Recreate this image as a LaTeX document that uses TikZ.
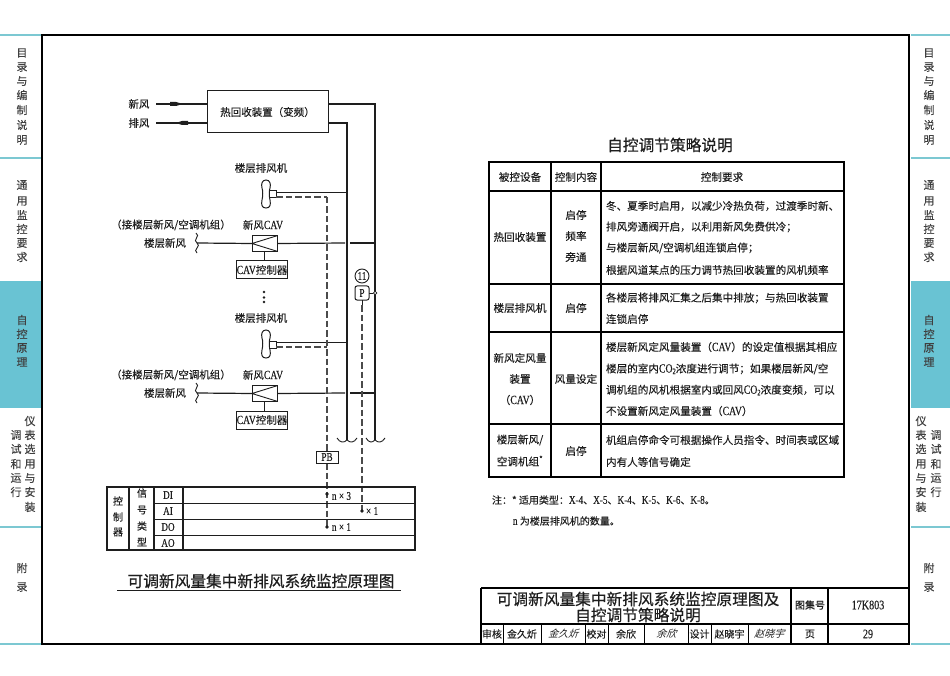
\documentclass[tikz,border=0pt]{standalone}
\usepackage{fontspec}
\setmainfont[FakeBold=0.15]{Noto Sans CJK SC}
\newfontfamily\latf[FakeStretch=0.78,Scale=1.18,FakeBold=0.2]{Liberation Serif}
\newfontfamily\sigf[FakeSlant=0.35]{Noto Sans CJK SC}
\newfontfamily\boldf[FakeBold=0.6]{Noto Sans CJK SC}
\usetikzlibrary{calc}
\newcommand{\lat}[1]{{\latf #1}}
\newcommand{\cotwo}{\lat{CO}\raisebox{-1.5pt}{\fontsize{7}{7}\selectfont\lat{2}}}
\definecolor{tabline}{HTML}{7CC8D2}
\definecolor{tabfill}{HTML}{69C3D3}
\definecolor{ink}{HTML}{1E1E1E}
\tikzset{
  x=1pt,y=-1pt,
  every node/.style={inner sep=0pt,outer sep=0pt,text=ink},
  thin line/.style={draw=ink,line width=0.9pt},
  duct/.style={draw=ink,line width=1.2pt},
  heavy/.style={draw=black,line width=1.6pt},
  signal/.style={draw=ink!80,line width=1.2pt,dash pattern=on 6.5pt off 3pt},
  tabtext/.style={font=\fontsize{11}{11}\selectfont,text=ink!85},
  label/.style={font=\fontsize{10.5}{10.5}\selectfont},
  celltext/.style={font=\fontsize{10.6}{10.6}\selectfont},
  reqtext/.style={font=\fontsize{10.6}{10.6}\selectfont,anchor=west},
  smalltext/.style={font=\fontsize{10}{10}\selectfont},
  bigtitle/.style={font=\boldf\fontsize{15.7}{15.7}\selectfont},
  devbox/.style={draw=ink,line width=1pt,fill=white},
  dot/.style={circle,fill=ink,minimum size=3.6pt},
}
\begin{document}
\begin{tikzpicture}
\useasboundingbox (0,0) rectangle (950,676);
% ---------- side tabs
\fill[tabfill] (0,281) rectangle (41,408);
\fill[tabfill] (911,281) rectangle (950,408);
\foreach \yy in {35,158,527,644}{
  \draw[tabline,line width=1.2pt] (0,\yy) -- (41,\yy);
  \draw[tabline,line width=1.2pt] (911,\yy) -- (950,\yy);
}
\foreach \xx in {22,929}{
  \foreach \c/\yy in {目/53,录/67,与/81,编/95,制/110,说/125,明/140,
     通/185,用/201,监/215,控/229,要/243,求/257,
     自/320,控/334,原/348,理/362,
     附/568,录/587}{
    \node[tabtext] at (\xx,\yy) {\c};
  }
}
\foreach \xl/\xr in {16/30,936/921}{
  \foreach \c/\yy in {调/435,试/449,和/464,运/478,行/492}{
    \node[tabtext] at (\xl,\yy) {\c};
  }
  \foreach \c/\yy in {仪/421,表/435,选/449,用/464,与/478,安/492,装/507}{
    \node[tabtext] at (\xr,\yy) {\c};
  }
}
% ---------- frame
\draw[heavy] (42,35) rectangle (909,644);
% ---------- heat recovery unit
\node[devbox,minimum width=121pt,minimum height=42pt,label] (hr) at (267.5,112) {热回收装置（变频）};
\node[label] (fresh) at (139,104) {新风};
\node[label] (exh) at (139,123) {排风};
\coordinate (freshS) at (156,104);
\coordinate (exhS) at (156,123);
\draw[duct] (freshS) -- (freshS -| hr.west);
\draw[duct] (exhS) -- (exhS -| hr.west);
\fill[ink] (170,102) -- (176,102) -- (183,104) -- (176,106) -- (170,106) -- cycle;
\fill[ink] (188,121) -- (182,121) -- (176,123) -- (182,125) -- (188,125) -- cycle;
% risers
\coordinate (supTop) at (375,104);
\coordinate (retTop) at (347,123);
\coordinate (supEnd) at (375,440);
\coordinate (retEnd) at (347,440);
\draw[duct] (supTop -| hr.east) -- (supTop) -- (supEnd);
\draw[duct] (retTop -| hr.east) -- (retTop) -- (retEnd);
\draw[thin line] (337,438) .. controls (340,443) and (344,443) .. (347,440) .. controls (350,443) and (354,443) .. (357,438);
\draw[thin line] (366,438) .. controls (369,443) and (372,443) .. (375,440) .. controls (378,443) and (382,443) .. (385,438);
% ---------- floors
\coordinate (sigTop) at (327,197);
\coordinate (sigBot) at (327,527);
\foreach \o/\n in {0/a,150/b}{
  \begin{scope}[yshift=-\o pt]
    \node[label] (fanlabel\n) at (261,168) {楼层排风机};
    \draw[thin line,line width=1pt,fill=white] (266,180) .. controls (262,180) and (261,184) .. (262,188)
       .. controls (263,191) and (263,196) .. (262,200)
       .. controls (261,205) and (262,208) .. (266,208)
       .. controls (270,208) and (271,205) .. (270,200)
       .. controls (269,196) and (269,191) .. (270,188)
       .. controls (271,184) and (270,180) .. (266,180) -- cycle;
    \node[devbox,minimum width=6.5pt,minimum height=7pt] (fan\n) at (273.2,194.5) {};
    \draw[duct] (fan\n.east |- 0,192.5) -- (347,192.5);
    \draw[signal] (fan\n.east |- 0,197) -- (327,197);
    \node[label] (src\n) at (171,225) {（接楼层新风/空调机组）};
    \node[label] (flo\n) at (165,243) {楼层新风};
    \node[label] (cavl\n) at (263,225) {新风\lat{CAV}};
    \node[devbox,minimum width=25pt,minimum height=15.5pt] (cav\n) at (264.5,243.5) {};
    \draw[thin line] (cav\n.north east) -- (cav\n.west) -- (cav\n.south east);
    \coordinate (ductL\n) at (197,243);
    \coordinate (gap1\n) at (345,243);
    \coordinate (gap2\n) at (350,243);
    \coordinate (ductR\n) at (375,243);
    \draw[duct] (ductL\n) -- (cav\n.west);
    \draw[duct] (cav\n.east) -- (gap1\n);
    \draw[duct] (gap2\n) -- (ductR\n);
    \draw[thin line] (196,233) .. controls (201,236) and (192,240) .. (197,243) .. controls (202,246) and (192,250) .. (197,253);
    \node[devbox,minimum width=50pt,minimum height=18pt,font=\fontsize{10.5}{10.5}\selectfont] (ctl\n) at (262,270) {\lat{CAV}控制器};
    \draw[thin line] (cav\n.south |- 0,251) -- (cav\n.south |- ctl\n.north);
  \end{scope}
}
\foreach \yy in {292,297.5,302}{\fill[ink] (264,\yy) circle (1.3pt);}
% signal risers
\draw[signal] (sigTop) -- (sigBot);
\node[devbox,minimum width=22pt,minimum height=12pt,font=\fontsize{10}{10}\selectfont] (pb) at (327,457) {\lat{PB}};
% pressure sensor
\node[draw=ink,circle,line width=0.9pt,minimum size=14pt,font=\fontsize{10}{10}\selectfont] (n11) at (362,276) {\lat{11}};
\node[draw=ink,rounded corners=2pt,line width=1pt,minimum width=14pt,minimum height=14pt,font=\fontsize{10}{10}\selectfont] (psens) at (362,293) {\lat{P}};
\node[draw=ink,circle,line width=0.7pt,fill=white,minimum size=3.5pt] (ptap) at (375,293) {};
\draw[thin line] (psens) -- (ptap);
\coordinate (psEnd) at (362,511);
\draw[thin line] (psens.south) -- (362,305);
\draw[signal] (362,305) -- (psEnd);
% ---------- controller table
\coordinate (ttl) at (107,487);
\coordinate (tbr) at (415,550);
\draw[thin line] (154,503) -- (415,503);
\draw[thin line] (154,519) -- (415,519);
\draw[thin line] (154,535) -- (415,535);
\draw[thin line,line width=1.2pt] (129,487) -- (129,550);
\draw[thin line,line width=1.2pt] (154,487) -- (154,550);
\draw[thin line,line width=1.2pt] (183,487) -- (183,550);
\draw[draw=ink,line width=1.5pt] (ttl) rectangle (tbr);
\foreach \c/\yy in {控/501,制/517,器/532}{\node[smalltext] at (118,\yy) {\c};}
\foreach \c/\yy in {信/493,号/510,类/526,型/542}{\node[smalltext] at (142,\yy) {\c};}
\foreach \c/\yy in {DI/495,AI/511,DO/527,AO/543}{\node[smalltext] at (168,\yy) {\lat{\c}};}
\node[dot] (d1) at (327,494) {};
\node[dot] (d2) at (362,511) {};
\node[dot] (d3) at (327,527) {};
\node[smalltext,anchor=west] (n1) at (332,496) {\lat{n × 3}};
\node[smalltext,anchor=west] (n2) at (366,511) {\lat{× 1}};
\node[smalltext,anchor=west] (n3) at (332,527) {\lat{n × 1}};
% ---------- diagram title
\node[bigtitle] (dtitle) at (261,581) {可调新风量集中新排风系统监控原理图};
\draw[draw=ink,line width=1.5pt] (117,590.5) -- (401,590.5);
% ---------- strategy table
\node[bigtitle] (stitle) at (670,145) {自控调节策略说明};
\draw[heavy,line width=1.4pt] (489,162) rectangle (844,477);
\foreach \yy in {191,284,332,424}{\draw[heavy,line width=1.2pt] (489,\yy) -- (844,\yy);}
\draw[heavy,line width=1.2pt] (551,162) -- (551,477);
\draw[heavy,line width=1.2pt] (601,162) -- (601,477);
\node[celltext] at (520,177) {被控设备};
\node[celltext] at (576,177) {控制内容};
\node[celltext] at (722,177) {控制要求};
\node[celltext] at (520,237) {热回收装置};
\node[celltext] at (576,215) {启停};
\node[celltext] at (576,236) {频率};
\node[celltext] at (576,257) {旁通};
\node[reqtext] at (606,206) {冬、夏季时启用，以减少冷热负荷，过渡季时新、};
\node[reqtext] at (606,227) {排风旁通阀开启，以利用新风免费供冷；};
\node[reqtext] at (606,248) {与楼层新风/空调机组连锁启停；};
\node[reqtext] at (606,270) {根据风道某点的压力调节热回收装置的风机频率};
\node[celltext] at (520,308) {楼层排风机};
\node[celltext] at (576,308) {启停};
\node[reqtext] at (606,298) {各楼层将排风汇集之后集中排放；与热回收装置};
\node[reqtext] at (606,319) {连锁启停};
\node[celltext] at (520,358) {新风定风量};
\node[celltext] at (520,379) {装置};
\node[celltext] at (520,400) {（\lat{CAV}）};
\node[celltext] at (576,379) {风量设定};
\node[reqtext] at (606,347) {楼层新风定风量装置（\lat{CAV}）的设定值根据其相应};
\node[reqtext] at (606,369) {楼层的室内\cotwo 浓度进行调节；如果楼层新风/空};
\node[reqtext] at (606,390) {调机组的风机根据室内或回风\cotwo 浓度变频，可以};
\node[reqtext] at (606,411) {不设置新风定风量装置（\lat{CAV}）};
\node[celltext] at (520,440) {楼层新风/};
\node[celltext] at (520,461) {空调机组\textsuperscript{*}};
\node[celltext] at (576,451) {启停};
\node[reqtext] at (606,440) {机组启停命令可根据操作人员指令、时间表或区域};
\node[reqtext] at (606,462) {内有人等信号确定};
\node[smalltext,anchor=west] at (492,500) {注：* 适用类型：\lat{X-4}、\lat{X-5}、\lat{K-4}、\lat{K-5}、\lat{K-6}、\lat{K-8}。};
\node[smalltext,anchor=west] at (513,521) {\lat{n} 为楼层排风机的数量。};
% ---------- title block
\draw[heavy,line width=1.5pt] (481,588) -- (909,588);
\draw[heavy,line width=1.5pt] (481,588) -- (481,644);
\draw[heavy,line width=1.1pt] (481,624) -- (909,624);
\draw[heavy,line width=1.1pt] (791,588) -- (791,644);
\draw[heavy,line width=1.1pt] (828,588) -- (828,644);
\foreach \xx in {503,541,585,608,644,688,711,748}{\draw[heavy,line width=1pt] (\xx,624) -- (\xx,644);}
\node[bigtitle] at (638,599) {可调新风量集中新排风系统监控原理图及};
\node[bigtitle] at (638,615) {自控调节策略说明};
\node[smalltext] at (810,605) {图集号};
\node[smalltext] at (868,605) {\lat{\fontsize{11}{11}\selectfont 17K803}};
\node[smalltext] at (810,634) {页};
\node[smalltext] at (868,634) {\lat{\fontsize{11}{11}\selectfont 29}};
\node[smalltext] at (492,634) {审核};
\node[smalltext] at (522,634) {金久炘};
\node[font=\sigf\fontsize{10}{10}\selectfont] at (563,634) {金久炘};
\node[smalltext] at (596.5,634) {校对};
\node[smalltext] at (626,634) {余欣};
\node[font=\sigf\fontsize{10}{10}\selectfont] at (666,634) {余欣};
\node[smalltext] at (699.5,634) {设计};
\node[smalltext] at (729.5,634) {赵晓宇};
\node[font=\sigf\fontsize{10}{10}\selectfont] at (769,634) {赵晓宇};
\end{tikzpicture}
\end{document}
